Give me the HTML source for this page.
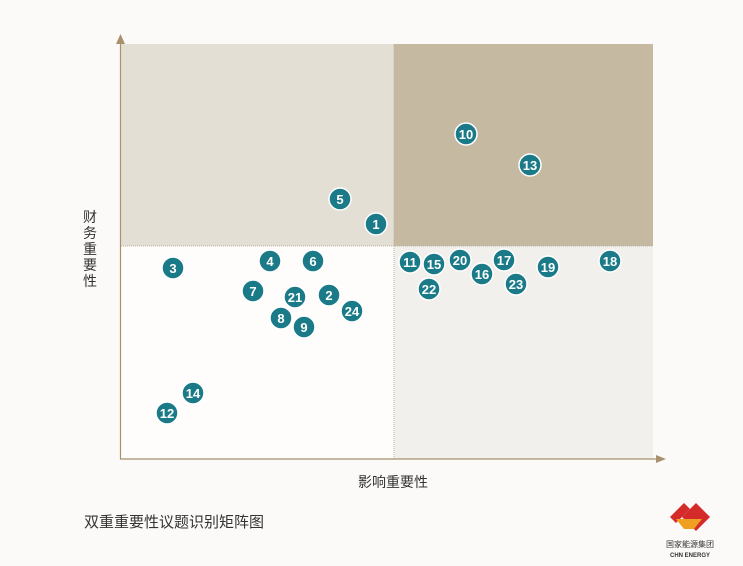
<!DOCTYPE html>
<html><head><meta charset="utf-8"><style>
body{margin:0;width:743px;height:566px;background:#fbfaf9;overflow:hidden;font-family:"Liberation Sans","Noto Sans CJK SC",sans-serif;}
</style></head><body>
<svg width="743" height="566" xmlns="http://www.w3.org/2000/svg" style="position:absolute;left:0;top:0">
<rect x="0" y="0" width="743" height="566" fill="#fbfaf9"/>
<rect x="121" y="44" width="273" height="202" fill="#e4dfd5"/>
<rect x="394" y="44" width="259" height="202" fill="#c5b9a1"/>
<rect x="121" y="246" width="273" height="213" fill="#fefdfc"/>
<rect x="394" y="246" width="259" height="213" fill="#f2f0ec"/>
<line x1="121" y1="246" x2="653" y2="246" stroke="#bdb3a1" stroke-width="1" stroke-dasharray="1,1"/>
<line x1="394" y1="44" x2="394" y2="459" stroke="#bdb3a1" stroke-width="1" stroke-dasharray="1,1"/>
<line x1="120.5" y1="40" x2="120.5" y2="459" stroke="#a8916c" stroke-width="1.2"/>
<polygon points="120.5,34 116,44 125,44" fill="#a8916c"/>
<line x1="120" y1="459" x2="658" y2="459" stroke="#a8916c" stroke-width="1.2"/>
<polygon points="666,459 656,455 656,463" fill="#a8916c"/>
<g fill="#1a7a88" stroke="#fff" stroke-width="1.5">
<circle cx="466" cy="134" r="11"/><circle cx="530" cy="165" r="11"/><circle cx="340" cy="199" r="11"/><circle cx="376" cy="224" r="11"/>
<circle cx="173" cy="268" r="11"/><circle cx="270" cy="261" r="11"/><circle cx="313" cy="261" r="11"/><circle cx="253" cy="291" r="11"/>
<circle cx="295" cy="297" r="11"/><circle cx="329" cy="295" r="11"/><circle cx="352" cy="311" r="11"/><circle cx="281" cy="318" r="11"/>
<circle cx="304" cy="327" r="11"/><circle cx="410" cy="262" r="11"/><circle cx="434" cy="264" r="11"/><circle cx="460" cy="260" r="11"/>
<circle cx="504" cy="260" r="11"/><circle cx="482" cy="274" r="11"/><circle cx="429" cy="289" r="11"/><circle cx="516" cy="284" r="11"/>
<circle cx="548" cy="267" r="11"/><circle cx="610" cy="261" r="11"/><circle cx="193" cy="393" r="11"/><circle cx="167" cy="413" r="11"/>
</g>
<g fill="#fff" font-size="13" font-weight="bold" text-anchor="middle" font-family="Liberation Sans, sans-serif">
<text x="466" y="139">10</text><text x="530" y="170">13</text><text x="340" y="204">5</text><text x="376" y="229">1</text>
<text x="173" y="273">3</text><text x="270" y="266">4</text><text x="313" y="266">6</text><text x="253" y="296">7</text>
<text x="295" y="302">21</text><text x="329" y="300">2</text><text x="352" y="316">24</text><text x="281" y="323">8</text>
<text x="304" y="332">9</text><text x="410" y="267">11</text><text x="434" y="269">15</text><text x="460" y="265">20</text>
<text x="504" y="265">17</text><text x="482" y="279">16</text><text x="429" y="294">22</text><text x="516" y="289">23</text>
<text x="548" y="272">19</text><text x="610" y="266">18</text><text x="193" y="398">14</text><text x="167" y="418">12</text>
</g>
<g font-size="14" fill="#333">
<text x="90" y="222" text-anchor="middle">财</text><text x="90" y="238" text-anchor="middle">务</text>
<text x="90" y="254" text-anchor="middle">重</text><text x="90" y="270" text-anchor="middle">要</text><text x="90" y="286" text-anchor="middle">性</text>
<text x="393" y="487" text-anchor="middle">影响重要性</text>
<text x="84" y="527" font-size="15">双重重要性议题识别矩阵图</text>
</g>
<g transform="translate(690,517)">
<polygon points="-20,0 -6,-14 0,-8 -14,6" fill="#d42a2a"/>
<polygon points="-8,0 6,-14 20,0 6,14" fill="#d42a2a"/>
<polygon points="-14,2 12,2 4,12 -6,12" fill="#f0a020"/>
</g>
<text x="690" y="547" font-size="8" fill="#333" text-anchor="middle">国家能源集团</text>
<text x="690" y="557" font-size="6" fill="#333" text-anchor="middle" font-weight="bold">CHN ENERGY</text>
</svg>
</body></html>
